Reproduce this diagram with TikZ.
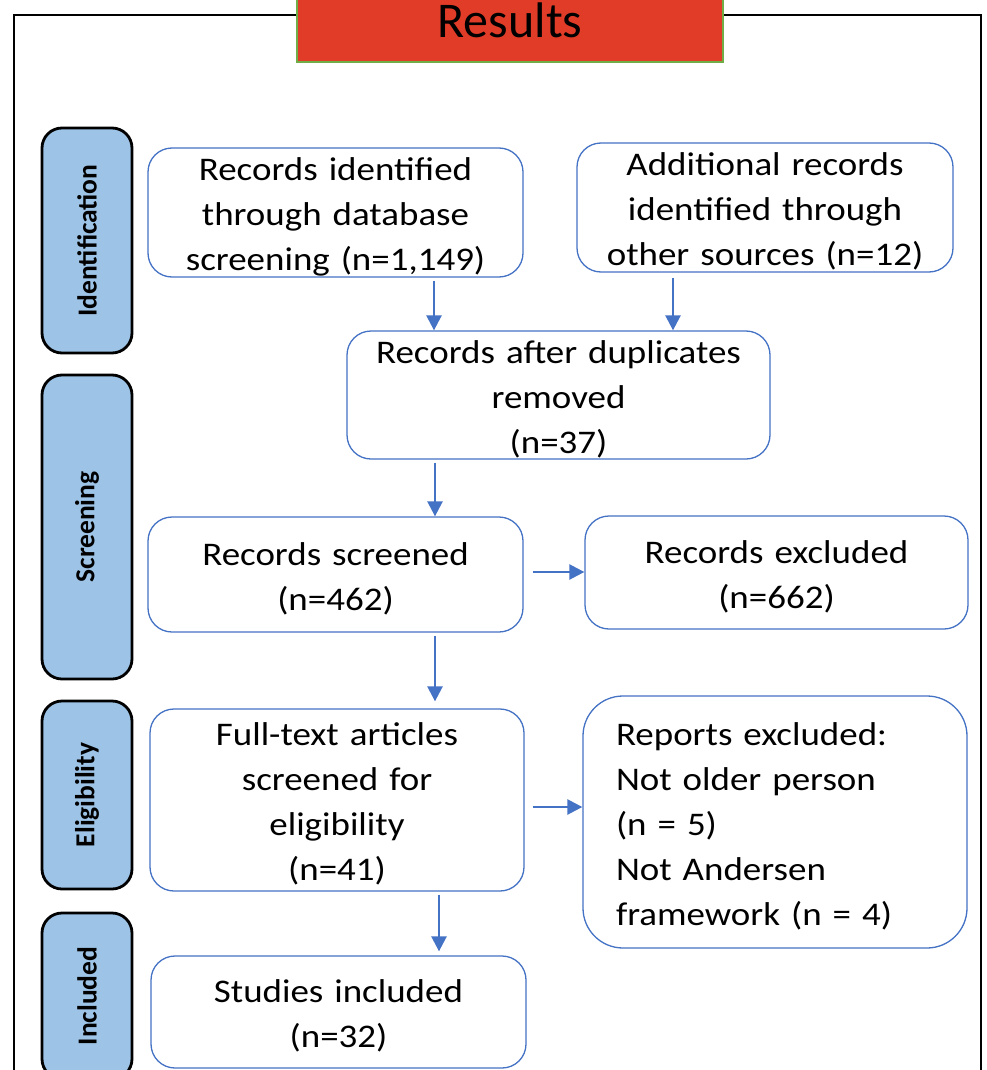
\documentclass[tikz,border=0pt]{standalone}
\usepackage{fontspec}
\setmainfont{Carlito}[FakeStretch=1.12]
\newfontfamily\plainfont{Carlito}
\usetikzlibrary{arrows.meta}
\definecolor{boxblue}{HTML}{4472C4}
\definecolor{stagefill}{HTML}{9DC3E6}
\definecolor{titlered}{HTML}{E03C28}
\definecolor{titlegreen}{HTML}{70AD47}
\begin{document}
\begin{tikzpicture}[x=1pt,y=-1pt,
    box/.style={draw=boxblue,line width=1.3pt,rounded corners=24pt,fill=white,
      align=center,inner sep=0pt,font=\fontsize{33}{45}\selectfont,
      execute at begin node=\strut},
    stage/.style={draw=black,line width=2.8pt,rounded corners=20pt,fill=stagefill,
      rotate=90,minimum height=90pt,inner sep=0pt,
      font=\plainfont\bfseries\fontsize{27.5}{30}\selectfont},
    flow/.style={draw=boxblue,line width=2.5pt,-{Triangle[width=15pt,length=15pt]},
      shorten <=3pt}]
  \useasboundingbox (0,0) rectangle (986,1070);
  \draw[line width=1.6pt] (14,15) rectangle (981,1100);
  \node[fill=titlered,draw=titlegreen,line width=2pt,minimum width=426pt,minimum height=84pt,
    font=\plainfont\fontsize{50}{60}\selectfont] (title) at (510,20) {Results};
  \node[stage,minimum width=225pt] (s1) at (87,240.5) {Identification};
  \node[stage,minimum width=304pt] (s2) at (87,527) {Screening};
  \node[stage,minimum width=188pt] (s3) at (87,795) {Eligibility};
  \node[stage,minimum width=166pt] (s4) at (87,996) {Included};
  \node[box,text width=375pt,minimum height=129pt] (b1) at (335.5,212.5)
    {Records identified\\through database\\screening (n=1,149)};
  \node[box,text width=376pt,minimum height=129pt] (b2) at (765,207.5)
    {Additional records\\identified through\\other sources (n=12)};
  \node[box,text width=423pt,minimum height=128pt] (b3) at (558.5,395)
    {Records after duplicates\\removed\\(n=37)};
  \node[box,text width=375pt,minimum height=115pt] (b4) at (335.5,574.5)
    {Records screened\\(n=462)};
  \node[box,text width=383pt,minimum height=113pt] (b5) at (776.5,572.5)
    {Records excluded\\(n=662)};
  \node[box,text width=374pt,minimum height=182pt] (b6) at (337,800)
    {Full-text articles\\screened for\\eligibility\\(n=41)};
  \node[box,rounded corners=40pt,align=left,text width=318pt,inner xsep=33pt,
    minimum height=252pt] (b7) at (775,822)
    {Reports excluded:\\Not older person\\(n = 5)\\Not Andersen\\framework (n = 4)};
  \node[box,text width=375pt,minimum height=112pt] (b8) at (338.5,1012)
    {Studies included\\(n=32)};
  \begin{scope}[flow]
    \draw (b1.south -| 434,0) -- (b3.north -| 434,0);
    \draw[shorten <=5pt] (b2.south -| 673,0) -- (b3.north -| 673,0);
    \draw (b3.south -| 435,0) -- (b4.north -| 435,0);
    \draw[shorten >=7pt] (b4.south -| 435,0) -- (b6.north -| 435,0);
    \draw[shorten <=9pt] (b4.east |- 0,572) -- (b5.west |- 0,572);
    \draw[shorten <=8pt] (b6.east |- 0,807) -- (b7.west |- 0,807);
    \draw[shorten >=4pt] (b6.south -| 439,0) -- (b8.north -| 439,0);
  \end{scope}
\end{tikzpicture}
\end{document}
